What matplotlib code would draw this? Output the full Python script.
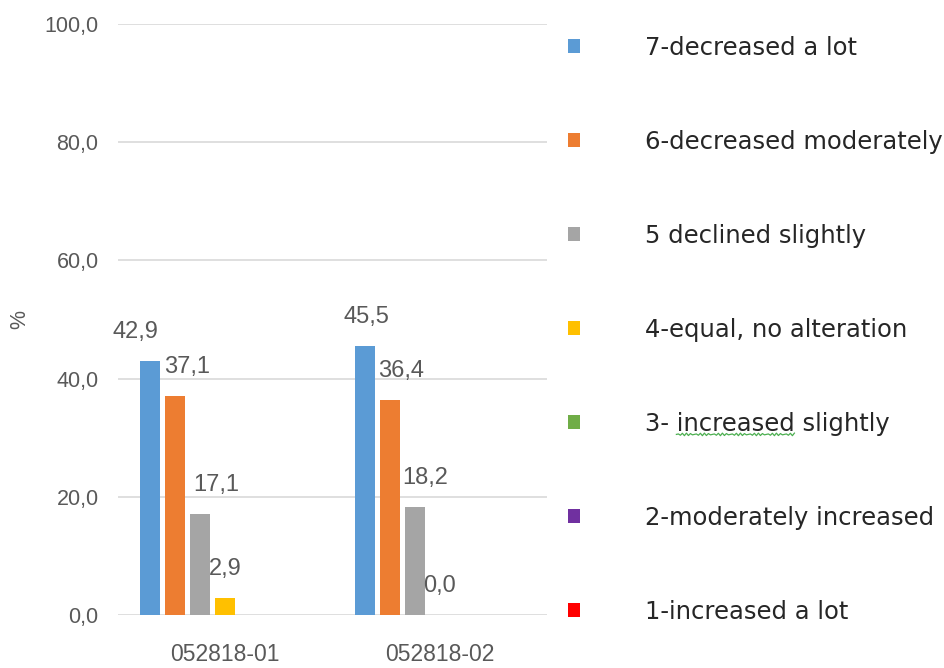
import matplotlib
matplotlib.use('Agg')
import matplotlib.pyplot as plt
from matplotlib.patches import Patch
from matplotlib.lines import Line2D
from matplotlib.transforms import IdentityTransform
import numpy as np

# data
groups = ['052818-01', '052818-02']
series = ['7-decreased a lot', '6-decreased moderately', '5 declined slightly',
          '4-equal, no alteration', '3- increased slightly',
          '2-moderately increased', '1-increased a lot']
values = [
    [42.9, 45.5],
    [37.1, 36.4],
    [17.1, 18.2],
    [2.9, 0.0],
    [0.0, 0.0],
    [0.0, 0.0],
    [0.0, 0.0],
]
labelled = 4  # only the first four series carry value labels
colors = ['#5B9BD5', '#ED7D31', '#A5A5A5', '#FFC000', '#70AD47', '#7030A0', '#FF0000']

# label x nudges in pixels (series x group), as placed in the original
label_dx = [[-15, 2], [12, 11], [16, 10], [0, 0]]

tick_font = 'Liberation Sans'
grey_txt = '#595959'

fig = plt.figure(figsize=(9.45, 6.68), dpi=100)
ax = fig.add_axes([0.1249, 0.0793, 0.454, 0.8847])

x = np.arange(len(groups))
step = 0.1166
width = 0.093
n = len(series)
for i, (name, vals) in enumerate(zip(series, values)):
    pos = x + (i - (n - 1) / 2) * step
    bars = ax.bar(pos, vals, width, color=colors[i], label=name, zorder=3)
    if i < labelled:
        for j, b in enumerate(bars):
            ax.annotate(f'{vals[j]:.1f}'.replace('.', ','),
                        (b.get_x() + b.get_width() / 2, b.get_height()),
                        xytext=(label_dx[i][j] * 0.72, 21), textcoords='offset points',
                        ha='center', va='center', fontsize=17,
                        family=tick_font, color=grey_txt)

ax.set_xlim(-0.5, 1.5)
ax.set_ylim(0, 100)
ax.set_yticks(np.arange(0, 101, 20))
ax.set_yticklabels([f'{v:.1f}'.replace('.', ',') for v in np.arange(0, 101, 20)])
ax.set_xticks(x)
ax.set_xticklabels(groups)
ax.yaxis.grid(True, color='#D9D9D9', linewidth=1.2, zorder=0)
ax.tick_params(axis='y', length=0, labelsize=15.5, colors=grey_txt, pad=14)
ax.tick_params(axis='x', length=0, labelsize=16.5, colors=grey_txt, pad=20)
for lab in ax.get_xticklabels() + ax.get_yticklabels():
    lab.set_family(tick_font)
for s in ax.spines.values():
    s.set_visible(False)
ax.set_ylabel('%', fontsize=15.5, family=tick_font, color=grey_txt)
ax.yaxis.set_label_coords(-0.205, 0.5)

# legend on the right
handles = [Patch(facecolor=c, edgecolor='none') for c in colors]
leg = fig.legend(handles, series, loc='upper left', bbox_to_anchor=(0.578, 0.979),
                 frameon=False, handlelength=0.5, handleheight=0.5,
                 handletextpad=2.65, labelspacing=2.88,
                 prop={'family': 'DejaVu Sans', 'size': 17.5})
for t in leg.get_texts():
    t.set_color('#262626')

# spell-check squiggle under "increased" in the third-from-bottom entry
fig.canvas.draw()
renderer = fig.canvas.get_renderer()
txt = leg.get_texts()[4]
bb = txt.get_window_extent(renderer)
prop = txt.get_fontproperties()
w_pre = renderer.get_text_width_height_descent('3- ', prop, ismath=False)[0]
w_word = renderer.get_text_width_height_descent('increased', prop, ismath=False)[0]
sx = np.linspace(bb.x0 + w_pre, bb.x0 + w_pre + w_word, 60)
sy = bb.y0 + 1.5 + 1.3 * np.sin((sx - sx[0]) * 2 * np.pi / 4.5)
fig.add_artist(Line2D(sx, sy, transform=IdentityTransform(), color='#4CAF50', lw=0.9))

fig.savefig('out.png', dpi=100)
